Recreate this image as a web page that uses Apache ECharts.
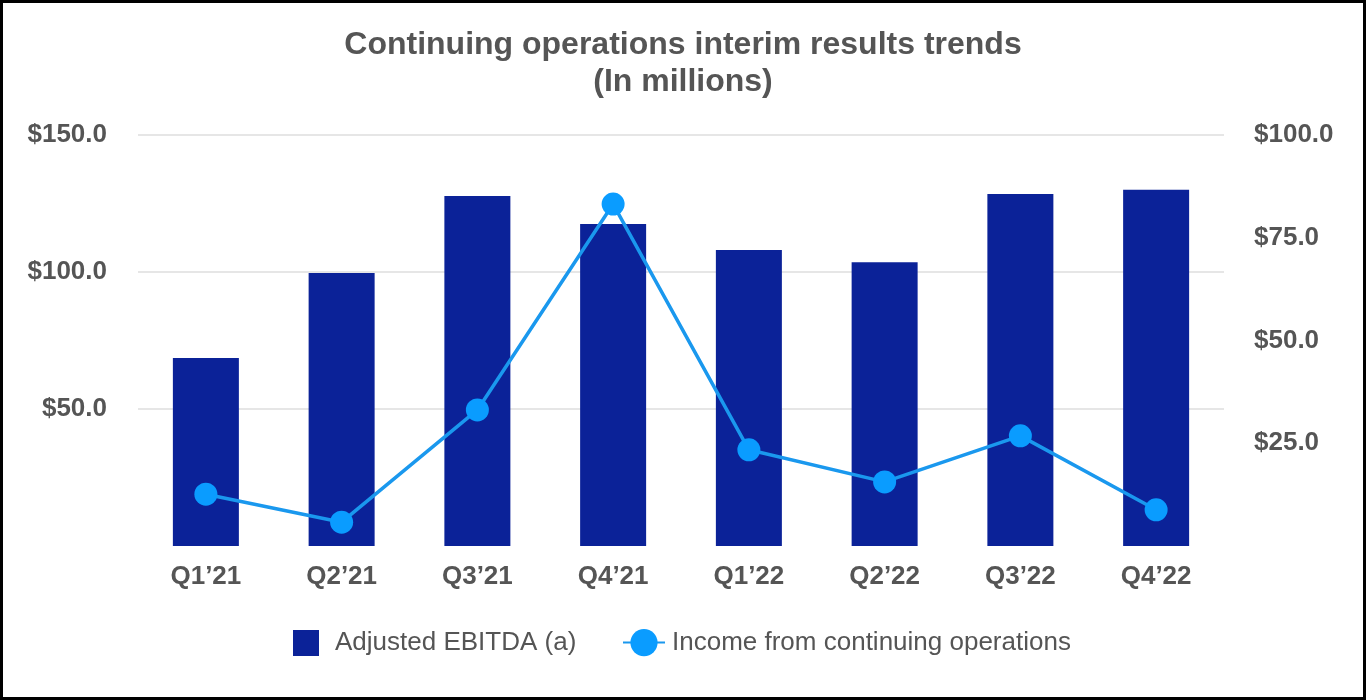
<!DOCTYPE html>
<html><head><meta charset="utf-8">
<script src="https://cdn.jsdelivr.net/npm/echarts@6/dist/echarts.min.js"></script>
<style>
html,body{margin:0;padding:0;background:#fff;}
#frame{width:1366px;height:700px;box-sizing:border-box;border:3px solid #000;position:relative;}
#c{position:absolute;left:-3px;top:-3px;width:1366px;height:700px;}
</style></head>
<body><div id="frame"><div id="c"></div></div>
<script>
const categories = ["Q1\u201921","Q2\u201921","Q3\u201921","Q4\u201921","Q1\u201922","Q2\u201922","Q3\u201922","Q4\u201922"];
const adjustedEbitda = [68.6, 99.6, 127.7, 117.5, 108.0, 103.6, 128.5, 130.0];
const incomeContinuing = [12.6, 5.8, 33.1, 83.2, 23.4, 15.6, 26.8, 8.8];
const font = "Liberation Sans, Arial, Helvetica, sans-serif";
const chart = echarts.init(document.getElementById('c'));
chart.setOption({
  animation:false,
  textStyle:{fontFamily:font},
  title:{text:"Continuing operations interim results trends\n(In millions)",left:'center',top:22,
    textStyle:{fontSize:32,fontWeight:'bold',color:'#555',lineHeight:37,fontFamily:font}},
  grid:{left:138,right:142,top:135,bottom:154,containLabel:false},
  legend:[
    {left:293,top:630,itemWidth:26,itemHeight:26,itemGap:0,padding:0,
     textStyle:{fontSize:26,color:'#555',fontFamily:font,padding:[0,0,0,11]},
     data:[{name:'Adjusted EBITDA (a)',icon:'rect'}]},
    {left:622,top:629,itemWidth:42,itemHeight:34,itemGap:0,padding:0,
     textStyle:{fontSize:26,color:'#555',fontFamily:font,padding:[0,0,0,2]},
     data:[{name:'Income from continuing operations'}]}
  ],
  xAxis:{type:'category',data:categories,axisLine:{show:false},axisTick:{show:false},
    axisLabel:{fontSize:26,fontWeight:'bold',color:'#555',margin:18,fontFamily:font}},
  yAxis:[
    {type:'value',min:0,max:150,interval:50,position:'left',
     axisLabel:{fontSize:26,fontWeight:'bold',color:'#555',margin:31,fontFamily:font,
       formatter:v=>v===0?'':'$'+v.toFixed(1)},
     splitLine:{lineStyle:{color:['rgba(0,0,0,0)','#e6e6e6','#e6e6e6','#e6e6e6'],width:2}},
     axisLine:{show:false},axisTick:{show:false}},
    {type:'value',min:0,max:100,interval:25,position:'right',
     axisLabel:{fontSize:26,fontWeight:'bold',color:'#555',margin:30,fontFamily:font,
       formatter:v=>v===0?'':'$'+v.toFixed(1)},
     splitLine:{show:false},axisLine:{show:false},axisTick:{show:false}}
  ],
  series:[
    {name:'Adjusted EBITDA (a)',type:'bar',data:adjustedEbitda,barWidth:66,yAxisIndex:0,
     itemStyle:{color:'#0b2298'}},
    {name:'Income from continuing operations',type:'line',data:incomeContinuing,yAxisIndex:1,
     symbol:'circle',symbolSize:23,lineStyle:{color:'#1a98ee',width:3.5},itemStyle:{color:'#0a9cff'},z:5}
  ]
});
</script></body></html>
